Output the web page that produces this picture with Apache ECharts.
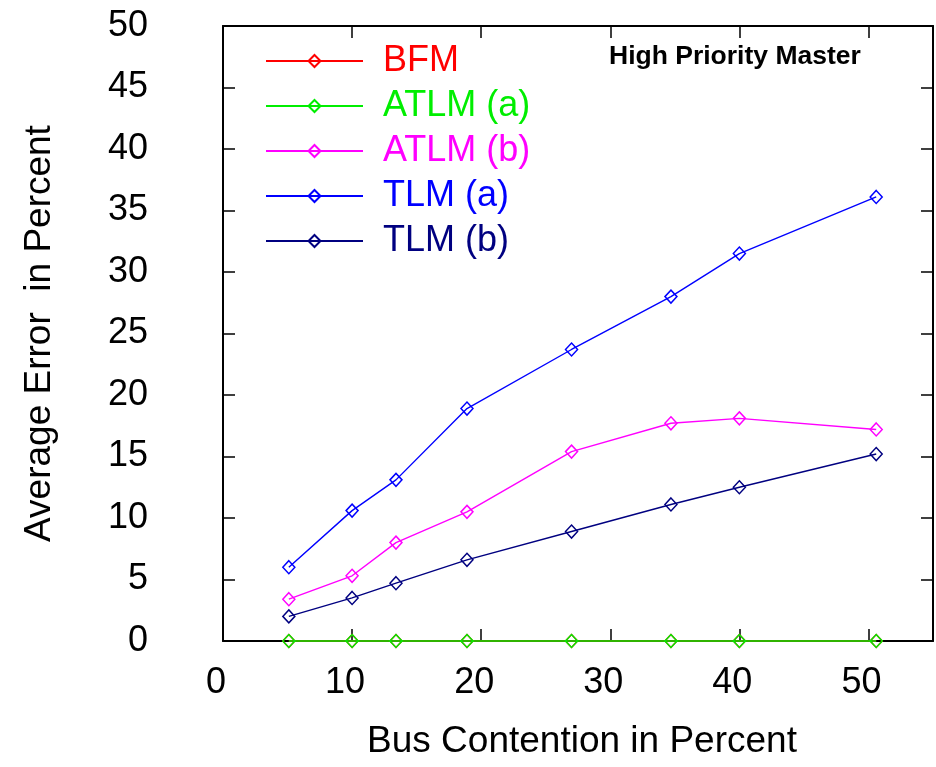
<!DOCTYPE html>
<html>
<head>
<meta charset="utf-8">
<script src="https://cdn.jsdelivr.net/npm/echarts@6/dist/echarts.min.js"></script>
<style>
    html, body { margin: 0; padding: 0; background: #fff; }
    #chart { width: 936px; height: 767px; }
</style>
</head>
<body>
<div id="chart"></div>
<script>
// bus contention (%) for each measurement
var contention = [5.1, 10.0, 13.4, 18.9, 27.0, 34.7, 40.0, 50.6];
var xTicks = [0, 10, 20, 30, 40, 50];
var yTicks = [0, 5, 10, 15, 20, 25, 30, 35, 40, 45, 50];

var bfm   = [0, 0, 0, 0, 0, 0, 0, 0];
var atlmA = [0, 0, 0, 0, 0, 0, 0, 0];
var atlmB = [3.4, 5.3, 8.0, 10.5, 15.4, 17.7, 18.1, 17.2];
var tlmA  = [6.0, 10.6, 13.1, 18.9, 23.7, 28.0, 31.5, 36.1];
var tlmB  = [2.0, 3.5, 4.7, 6.6, 8.9, 11.1, 12.5, 15.2];

var names = ['BFM', 'ATLM (a)', 'ATLM (b)', 'TLM (a)', 'TLM (b)'];
var colors = ['#ff0000', '#00ee00', '#ff00ff', '#0000ff', '#000080'];
var values = [bfm, atlmA, atlmB, tlmA, tlmB];

var font = 'Liberation Sans, Arial, Helvetica, sans-serif';
var chart = echarts.init(document.getElementById('chart'));

var series = values.map(function (v, i) {
    return {
        name: names[i],
        type: 'line',
        xAxisIndex: 0,
        yAxisIndex: 0,
        data: v.map(function (y, j) { return [contention[j], y]; }),
        symbol: 'diamond',
        symbolSize: [12, 13],
        color: colors[i],
        lineStyle: { color: colors[i], width: 1.4 },
        itemStyle: { color: 'rgba(255,255,255,0)', borderColor: colors[i], borderWidth: 1.5 },
        z: 3 + i,
        clip: false,
        animation: false
    };
});

function tick() {
    return { show: true, inside: true, length: 12, lineStyle: { color: '#000', width: 1.5 } };
}
// every axis points onZero at a frame axis whose range has no zero, so all four stay on the box edges
function edge() {
    return { show: true, onZero: true, onZeroAxisIndex: 1, lineStyle: { color: '#000', width: 2 } };
}
// the top / right frame axes use a shifted range (same tick spacing)
var shift = 1000;

var option = {
    backgroundColor: '#fff',
    animation: false,
    textStyle: { fontFamily: font },
    title: {
        text: 'High Priority Master',
        left: 609,
        top: 43,
        padding: 0,
        textStyle: { fontFamily: font, fontSize: 26.5, fontWeight: 'bold', color: '#000' }
    },
    legend: {
        orient: 'vertical',
        left: 265,
        top: 41,
        padding: 0,
        itemWidth: 97,
        itemHeight: 15,
        itemGap: 5,
        data: names.map(function (n, i) {
            return { name: n, textStyle: { color: colors[i] } };
        }),
        textStyle: { fontFamily: font, fontSize: 36, lineHeight: 40, padding: [0, 0, 0, 15] }
    },
    grid: { left: 223, right: 2, top: 26, bottom: 126 },
    xAxis: [{
        type: 'value',
        position: 'bottom',
        min: 0,
        max: 55,
        interval: 10,
        name: 'Bus Contention in Percent',
        nameLocation: 'middle',
        nameGap: 82,
        nameTextStyle: { fontFamily: font, fontSize: 37, color: '#000', padding: [0, 0, 0, 8] },
        axisLine: edge(),
        axisTick: tick(),
        splitLine: { show: false },
        axisLabel: {
            fontFamily: font, fontSize: 36, color: '#000', margin: 24,
            padding: [0, 14, 0, 0],
            formatter: function (v) { return xTicks.indexOf(v) >= 0 ? String(v) : ''; }
        }
    }, {
        type: 'value',
        position: 'top',
        min: shift,
        max: shift + 55,
        interval: 10,
        axisLine: edge(),
        axisTick: tick(),
        axisLabel: { show: false },
        splitLine: { show: false }
    }],
    yAxis: [{
        type: 'value',
        position: 'left',
        min: 0,
        max: 50,
        interval: 5,
        name: 'Average Error  in Percent',
        nameLocation: 'middle',
        nameGap: 165,
        nameTextStyle: { fontFamily: font, fontSize: 37, color: '#000' },
        axisLine: edge(),
        axisTick: tick(),
        splitLine: { show: false },
        axisLabel: {
            fontFamily: font, fontSize: 36, color: '#000', margin: 75,
            formatter: function (v) { return yTicks.indexOf(v) >= 0 ? String(v) : ''; }
        }
    }, {
        type: 'value',
        position: 'right',
        min: shift,
        max: shift + 50,
        interval: 5,
        axisLine: edge(),
        axisTick: tick(),
        axisLabel: { show: false },
        splitLine: { show: false }
    }],
    series: series
};

chart.setOption(option);
</script>
</body>
</html>
